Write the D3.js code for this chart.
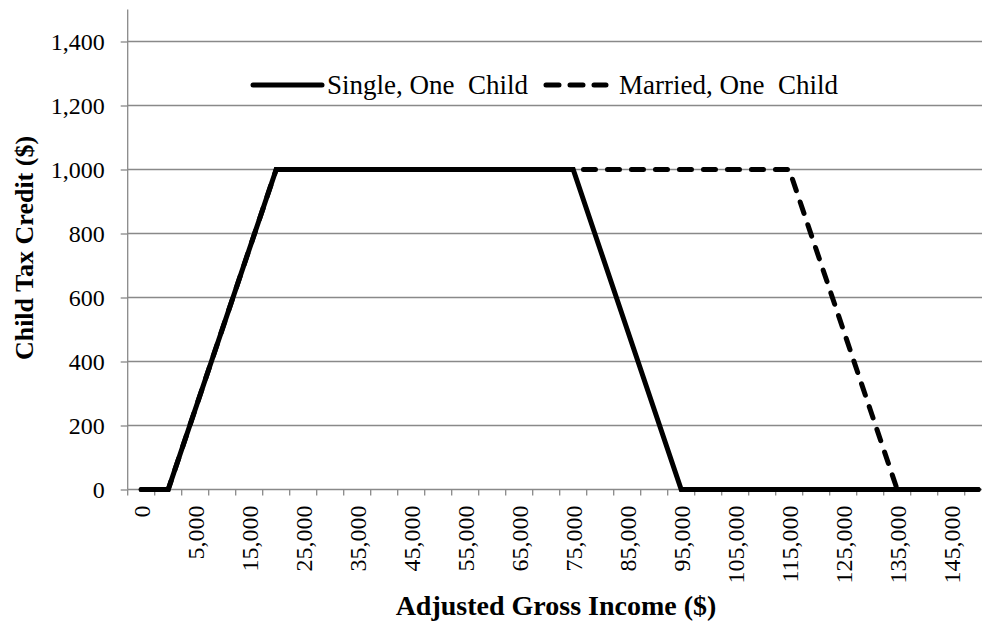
<!DOCTYPE html>
<html>
<head>
<meta charset="utf-8">
<script src="https://cdn.jsdelivr.net/npm/d3@7"></script>
<style>
  html, body { margin: 0; padding: 0; background: #fff; overflow: hidden; }
  svg { display: block; font-family: "Liberation Serif", "Times New Roman", serif; }
</style>
</head>
<body>
<svg id="chart" width="982" height="628"></svg>
<script>
// ---- data ----
const categories = [0, 3000, 5000, 10000, 15000, 20000, 25000, 30000, 35000, 40000,
  45000, 50000, 55000, 60000, 65000, 70000, 75000, 80000, 85000, 90000,
  95000, 100000, 105000, 110000, 115000, 120000, 125000, 130000, 135000, 140000,
  145000, 150000];
const singleOneChild = [0, 0, 250, 500, 750, 1000, 1000, 1000, 1000, 1000,
  1000, 1000, 1000, 1000, 1000, 1000, 1000, 750, 500, 250,
  0, 0, 0, 0, 0, 0, 0, 0, 0, 0,
  0, 0];
const marriedOneChild = [0, 0, 250, 500, 750, 1000, 1000, 1000, 1000, 1000,
  1000, 1000, 1000, 1000, 1000, 1000, 1000, 1000, 1000, 1000,
  1000, 1000, 1000, 1000, 1000, 750, 500, 250, 0, 0,
  0, 0];
const yTicks = [0, 200, 400, 600, 800, 1000, 1200, 1400];
const seriesNames = ["Single, One  Child", "Married, One  Child"];
const yTitle = "Child Tax Credit ($)";
const xTitle = "Adjusted Gross Income ($)";

(function () {
// ---- layout ----
const svg = d3.select("#chart");
const pLeft = 127.7, pRight = 991.7, pTop = 9.5, pBottom = 489.5;
const gridColor = "#898989";

const x = d3.scaleBand().domain(d3.range(categories.length)).range([pLeft, pRight]).paddingInner(0).paddingOuter(0);
const y = d3.scaleLinear().domain([0, 1500]).range([pBottom, pTop]);
const fmt = d3.format(",");

// gridlines
svg.append("g").selectAll("line").data(yTicks.filter(d => d > 0)).join("line")
  .attr("x1", pLeft).attr("x2", pRight)
  .attr("y1", d => y(d)).attr("y2", d => y(d))
  .attr("stroke", gridColor).attr("stroke-width", 1.3);

// y axis
const yAxis = d3.axisLeft(y).tickValues(yTicks).tickSize(7).tickPadding(16).tickFormat(fmt);
const gy = svg.append("g").attr("transform", `translate(${pLeft},0)`).call(yAxis)
  .attr("font-family", "'Liberation Serif', 'Times New Roman', serif");
gy.select(".domain").remove();
gy.selectAll(".tick line").attr("stroke", gridColor).attr("stroke-width", 1.3);
gy.selectAll(".tick text").attr("font-size", 24).attr("fill", "#000");
svg.append("line").attr("x1", pLeft).attr("x2", pLeft).attr("y1", pTop).attr("y2", pBottom)
  .attr("stroke", gridColor).attr("stroke-width", 1.3);

// x axis
svg.append("line").attr("x1", pLeft).attr("x2", pRight).attr("y1", pBottom).attr("y2", pBottom)
  .attr("stroke", gridColor).attr("stroke-width", 1.3);
const boundaries = d3.range(categories.length + 1).map(i => i < categories.length ? x(i) : x(i - 1) + x.bandwidth());
svg.append("g").selectAll("line").data(boundaries).join("line")
  .attr("x1", d => d).attr("x2", d => d)
  .attr("y1", pBottom).attr("y2", pBottom + 6)
  .attr("stroke", gridColor).attr("stroke-width", 1.3);
svg.append("g").selectAll("text").data(categories.map((c, i) => ({c, i})).filter(d => d.i % 2 === 0)).join("text")
  .attr("transform", d => `translate(${x(d.i) + x.bandwidth() / 2},${pBottom + 16}) rotate(-90)`)
  .attr("text-anchor", "end")
  .attr("dy", "0.35em")
  .attr("font-size", 24)
  .text(d => fmt(d.c));

// axis titles
svg.append("text")
  .attr("transform", `translate(33,248) rotate(-90)`)
  .attr("text-anchor", "middle")
  .attr("font-size", 26).attr("font-weight", "bold")
  .text(yTitle);
svg.append("text")
  .attr("x", 556).attr("y", 615)
  .attr("text-anchor", "middle")
  .attr("font-size", 28).attr("font-weight", "bold")
  .text(xTitle);

// lines
const line = d3.line().x((d, i) => x(i) + x.bandwidth() / 2).y(d => y(d));
svg.append("path").datum(marriedOneChild)
  .attr("d", line).attr("fill", "none").attr("stroke", "#000")
  .attr("stroke-width", 5).attr("stroke-dasharray", "12 12").attr("stroke-linecap", "round");
svg.append("path").datum(singleOneChild)
  .attr("d", line).attr("fill", "none").attr("stroke", "#000")
  .attr("stroke-width", 5).attr("stroke-linecap", "round");

// legend
const lg = svg.append("g");
lg.append("rect").attr("x", 240).attr("y", 66).attr("width", 610).attr("height", 36).attr("fill", "#fff");
lg.append("line").attr("x1", 253).attr("x2", 322).attr("y1", 85).attr("y2", 85)
  .attr("stroke", "#000").attr("stroke-width", 5).attr("stroke-linecap", "round");
lg.append("text").attr("x", 327).attr("y", 94).attr("font-size", 27)
  .style("white-space", "pre").text(seriesNames[0]);
lg.append("line").attr("x1", 546).attr("x2", 606).attr("y1", 85).attr("y2", 85)
  .attr("stroke", "#000").attr("stroke-width", 5).attr("stroke-linecap", "round")
  .attr("stroke-dasharray", "13 11");
lg.append("text").attr("x", 619).attr("y", 94).attr("font-size", 27)
  .style("white-space", "pre").text(seriesNames[1]);
})();
</script>
</body>
</html>
